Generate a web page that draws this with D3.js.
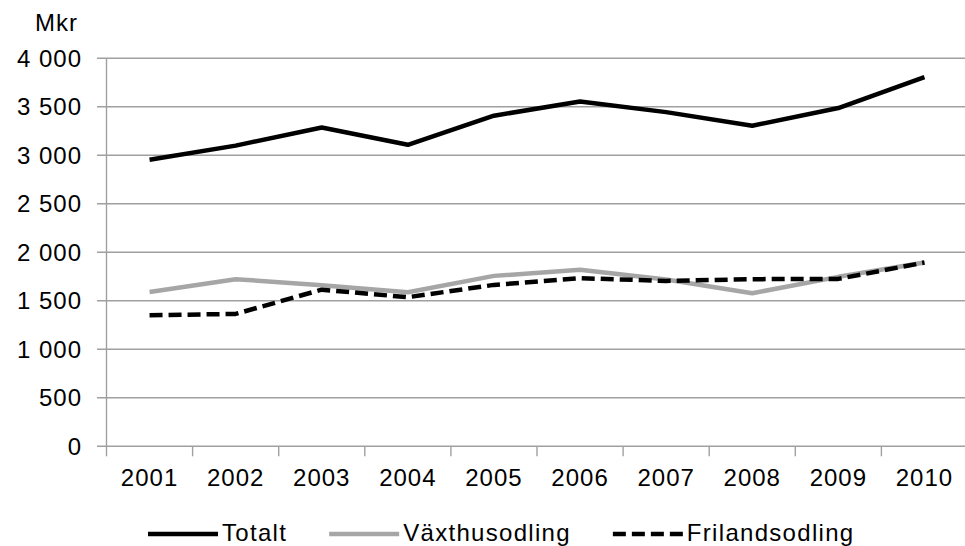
<!DOCTYPE html>
<html>
<head>
<meta charset="utf-8">
<script src="https://cdn.jsdelivr.net/npm/d3@7.9.0/dist/d3.min.js"></script>
<style>
  html, body { margin: 0; padding: 0; background: #fff; }
  svg { display: block; font-family: "Liberation Sans", Arial, sans-serif; }
  text { fill: #000; letter-spacing: 1px; }
  .legend text { letter-spacing: 1.3px; }
</style>
</head>
<body>
<svg id="chart" width="965" height="546"></svg>
<script>
const years = ['2001', '2002', '2003', '2004', '2005', '2006', '2007', '2008', '2009', '2010'];
const totalt = [2955, 3100, 3287, 3108, 3408, 3555, 3445, 3305, 3487, 3805];
const vaxthus = [1590, 1723, 1660, 1589, 1757, 1819, 1720, 1578, 1747, 1894];
const friland = [1351, 1365, 1615, 1537, 1664, 1733, 1705, 1723, 1726, 1894];
const yTicks = [0, 500, 1000, 1500, 2000, 2500, 3000, 3500, 4000];

const series = [
	{ name: 'Totalt', values: totalt, color: '#000', dash: null },
	{ name: 'Växthusodling', values: vaxthus, color: '#a6a6a6', dash: null },
	{ name: 'Frilandsodling', values: friland, color: '#000', dash: '13,6' },
];

const svg = d3.select('#chart');
const gridColor = '#a0a0a0';

const x = d3.scaleBand().domain(years).range([106.5, 967.5]).padding(0);
const y = d3.scaleLinear().domain([0, 4000]).range([446.3, 58.3]);

const fmt = d3.formatLocale({ decimal: ',', thousands: '\u00a0', grouping: [3], currency: ['', ''] }).format(',d');

// horizontal gridlines + y labels
const yAxis = svg.append('g');
yAxis.selectAll('line')
	.data(yTicks)
	.join('line')
	.attr('x1', 97)
	.attr('x2', 965)
	.attr('y1', (d) => y(d))
	.attr('y2', (d) => y(d))
	.attr('stroke', gridColor)
	.attr('stroke-width', 1.4);
yAxis.selectAll('text')
	.data(yTicks)
	.join('text')
	.attr('x', 82)
	.attr('y', (d) => y(d))
	.attr('dy', '0.35em')
	.attr('text-anchor', 'end')
	.attr('font-size', 24)
	.text((d) => fmt(d));

svg.append('text')
	.attr('x', 35)
	.attr('y', 31)
	.attr('font-size', 24)
	.text('Mkr');

// vertical axis line
svg.append('line')
	.attr('x1', 106.5).attr('x2', 106.5)
	.attr('y1', y(4000)).attr('y2', y(0))
	.attr('stroke', gridColor)
	.attr('stroke-width', 1.4);

// x ticks at band edges
const edges = years.map((d) => x(d)).concat([x(years[years.length - 1]) + x.bandwidth()]);
svg.append('g')
	.selectAll('line')
	.data(edges)
	.join('line')
	.attr('x1', (d) => d)
	.attr('x2', (d) => d)
	.attr('y1', y(0))
	.attr('y2', y(0) + 10)
	.attr('stroke', gridColor)
	.attr('stroke-width', 1.4);

svg.append('g')
	.selectAll('text')
	.data(years)
	.join('text')
	.attr('x', (d) => x(d) + x.bandwidth() / 2)
	.attr('y', 486)
	.attr('text-anchor', 'middle')
	.attr('font-size', 24)
	.text((d) => d);

// lines
const line = d3.line()
	.x((d, i) => x(years[i]) + x.bandwidth() / 2)
	.y((d) => y(d));

series.forEach((s) => {
	svg.append('path')
		.attr('d', line(s.values))
		.attr('fill', 'none')
		.attr('stroke', s.color)
		.attr('stroke-width', 4.5)
		.attr('stroke-linejoin', 'round')
		.attr('stroke-dasharray', s.dash);
});

// legend
const legend = svg.append('g').attr('class', 'legend');
let lx = 148;
const ly = 534;
series.forEach((s) => {
	legend.append('line')
		.attr('x1', lx).attr('x2', lx + 70)
		.attr('y1', ly).attr('y2', ly)
		.attr('stroke', s.color)
		.attr('stroke-width', 4.5)
		.attr('stroke-dasharray', s.dash);
	const t = legend.append('text')
		.attr('x', lx + 74)
		.attr('y', 541)
		.attr('font-size', 24)
		.text(s.name);
	lx += 74 + t.node().getComputedTextLength() + 42;
});
</script>
</body>
</html>
